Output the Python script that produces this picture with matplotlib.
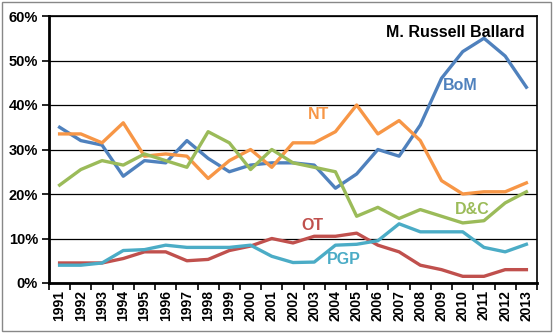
import matplotlib.pyplot as plt
import numpy as np

years = list(range(1991, 2014))
bom = [35, 32, 31, 24, 27.5, 27, 32, 28, 25, 26.5, 27, 27, 26.5, 21.3, 24.5, 30, 28.5, 35.5, 46, 52, 55, 51, 44]
nt = [33.5, 33.5, 31.5, 36, 28.5, 29, 28.5, 23.5, 27.5, 30, 26, 31.5, 31.5, 34, 40, 33.5, 36.5, 32, 23, 20, 20.5, 20.5, 22.5]
dc = [22, 25.5, 27.5, 26.5, 29, 27.5, 26, 34, 31.5, 25.5, 30, 27, 26, 25, 15, 17, 14.5, 16.5, 15, 13.5, 14, 18, 20.5]
ot = [4.5, 4.5, 4.5, 5.5, 7, 7, 5, 5.3, 7.3, 8.3, 10, 9, 10.5, 10.5, 11.2, 8.5, 7, 4, 3, 1.5, 1.5, 3, 3]
pgp = [4, 4, 4.5, 7.3, 7.5, 8.5, 8, 8, 8, 8.5, 6, 4.6, 4.7, 8.5, 8.7, 9.5, 13.3, 11.5, 11.5, 11.5, 8, 7, 8.7]

series = [
    ("BoM", bom, "#4F81BD", 18.9, 44.3),
    ("NT", nt, "#F79646", 12.2, 37.8),
    ("D&C", dc, "#9BBB59", 19.45, 16.6),
    ("OT", ot, "#C0504D", 11.9, 13.0),
    ("PGP", pgp, "#4BACC6", 13.4, 5.2),
]

fig = plt.figure(figsize=(5.53, 3.33), dpi=100)
fig.patches.append(plt.Rectangle((0.004, 0.006), 0.992, 0.988, transform=fig.transFigure,
                                 fill=False, edgecolor="#888888", linewidth=1))
ax = fig.add_axes([49/553, 50/333, 488/553, 267/333])

x = np.arange(len(years))
for name, vals, col, lx, ly in series:
    ax.plot(x, vals, color=col, linewidth=2.4)
    ax.text(lx, ly, name, color=col, fontsize=11.5, fontweight="bold",
            ha="center", va="center", family="Liberation Sans")

ax.text(0.975, 0.94, "M. Russell Ballard", transform=ax.transAxes, ha="right", va="center",
        fontsize=11.5, fontweight="bold", family="Liberation Sans")

ax.set_xlim(-0.5, len(years) - 0.5)
ax.set_ylim(0, 60)
ax.set_yticks(range(0, 61, 10))
ax.set_yticklabels([f"{v}%" for v in range(0, 61, 10)], fontsize=10.5, fontweight="bold",
                   family="Liberation Sans")
ax.set_xticks(x)
ax.set_xticklabels([str(y) for y in years], rotation=90, fontsize=10, fontweight="bold",
                   family="Liberation Sans")
ax.set_xticks(np.arange(-0.5, len(years)), minor=True)
ax.tick_params(axis="x", which="major", length=0, pad=5)
ax.tick_params(axis="x", which="minor", length=5, width=1.2, direction="out")
ax.tick_params(axis="y", length=5, width=1.2, direction="out", pad=3)
ax.grid(axis="y", color="black", linewidth=0.9)
ax.set_axisbelow(True)
for s in ["left", "bottom"]:
    ax.spines[s].set_linewidth(2)
for s in ["top", "right"]:
    ax.spines[s].set_linewidth(1.2)

fig.savefig("out.png", dpi=100)
